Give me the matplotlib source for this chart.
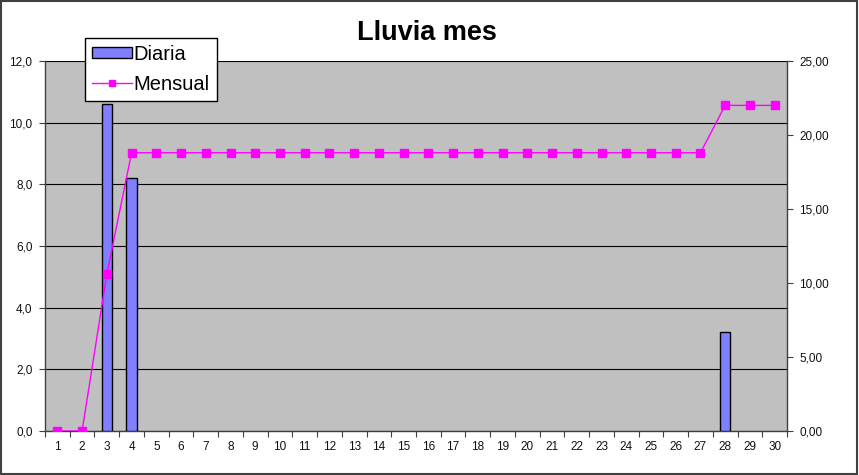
import numpy as np
import matplotlib
matplotlib.use("Agg")
import matplotlib.pyplot as plt
from matplotlib.patches import Rectangle
from matplotlib.ticker import FixedLocator, FuncFormatter

plt.rcParams["font.family"] = ["Liberation Sans", "DejaVu Sans"]

# data
days = list(range(1, 31))
diaria = [0, 0, 10.6, 8.2] + [0] * 23 + [3.2, 0, 0]
mensual = [0.0, 0.0, 10.6] + [18.8] * 24 + [22.0, 22.0, 22.0]

BAR_COLOR = "#8080FF"
LINE_COLOR = "#FF00FF"

fig = plt.figure(figsize=(8.59, 4.75), dpi=100)
fig.patch.set_facecolor("white")
# outer frame
fig.patches.append(Rectangle((0.001, 0.002), 0.997, 0.996, transform=fig.transFigure,
                             fill=False, edgecolor="#404040", lw=1.5))

ax = fig.add_axes([0.0524, 0.0926, 0.8638, 0.779])
ax.set_facecolor("#C0C0C0")

x = np.arange(len(days))
bars = ax.bar(x, diaria, width=0.42, color=BAR_COLOR, edgecolor="black", lw=1.0, zorder=3)
# empty days: no outline at the baseline
for b, v in zip(bars, diaria):
    if v == 0:
        b.set_linewidth(0)

ax.set_xlim(-0.5, len(days) - 0.5)
ax.set_ylim(0, 12)
ax.set_yticks(np.arange(0, 12.1, 2))
ax.yaxis.set_major_formatter(FuncFormatter(lambda v, p: f"{v:.1f}".replace(".", ",")))
ax.grid(axis="y", color="black", lw=0.8, zorder=1)
ax.set_axisbelow(True)

ax.xaxis.set_major_locator(FixedLocator(np.arange(-0.5, len(days), 1)))
ax.xaxis.set_major_formatter(FuncFormatter(lambda v, p: ""))
ax.xaxis.set_minor_locator(FixedLocator(x))
ax.xaxis.set_minor_formatter(FuncFormatter(lambda v, p: str(days[int(round(v))])))
ax.tick_params(axis="x", which="major", length=4, width=0.8, color="#404040")
ax.tick_params(axis="x", which="minor", length=0, labelsize=8.5, pad=7, labelcolor="#111111")
ax.tick_params(axis="y", length=4, width=0.8, color="#404040", labelsize=8.5,
               labelcolor="#111111", pad=5)

for side in ["top", "right"]:
    ax.spines[side].set_visible(False)
for side in ["left", "bottom"]:
    ax.spines[side].set_color("#404040")
    ax.spines[side].set_linewidth(1.0)

ax2 = ax.twinx()
line, = ax2.plot(x, mensual, color=LINE_COLOR, lw=1.0, marker="s", markersize=6,
                 markeredgecolor=LINE_COLOR, zorder=4)
ax2.set_ylim(0, 25)
ax2.set_yticks(np.arange(0, 25.1, 5))
ax2.yaxis.set_major_formatter(FuncFormatter(lambda v, p: f"{v:.2f}".replace(".", ",")))
ax2.tick_params(axis="y", length=4, width=0.8, color="#404040", labelsize=8.5,
                labelcolor="#111111", pad=5)
for side in ["top", "left", "bottom"]:
    ax2.spines[side].set_visible(False)
ax2.spines["right"].set_color("#404040")
ax2.spines["right"].set_linewidth(1.0)

fig.suptitle("Lluvia mes", x=0.497, y=0.958, fontsize=19.5, fontweight="bold")

bar_handle = Rectangle((0, 0), 1, 1, facecolor=BAR_COLOR, edgecolor="black", lw=1.0)
leg = fig.legend([bar_handle, line], ["Diaria", "Mensual"], loc="upper left",
                 bbox_to_anchor=(0.099, 0.921),
                 fontsize=14.5, frameon=True, fancybox=False, edgecolor="black",
                 framealpha=1, borderpad=0.35, handlelength=2.0, handleheight=0.45,
                 handletextpad=0.05, labelspacing=0.55, borderaxespad=0,
                 markerscale=0.7)
leg.get_frame().set_linewidth(1.0)
leg.set_zorder(10)

fig.savefig("out.png", dpi=100)
